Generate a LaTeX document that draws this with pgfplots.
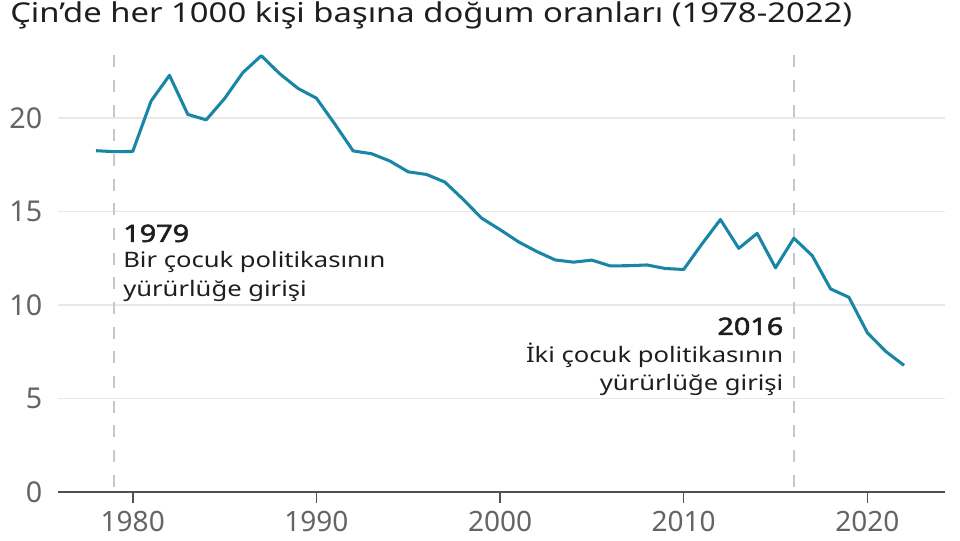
\documentclass[border=0pt]{standalone}
\usepackage{fontspec}
\setmainfont{Noto Sans}[AutoFakeBold=2.2]
\newfontfamily\wide{Noto Sans}[FakeStretch=1.2, AutoFakeBold=2.2]
\usepackage{pgfplots}
\pgfplotsset{compat=1.18}
\definecolor{linecol}{RGB}{24,134,164}
\definecolor{gridcol}{RGB}{232,232,232}
\definecolor{dashcol}{RGB}{200,200,200}
\definecolor{tickcol}{RGB}{100,100,100}
\definecolor{axiscol}{RGB}{80,80,80}
\definecolor{txtcol}{RGB}{30,30,30}
\begin{document}
\begin{tikzpicture}
\useasboundingbox (0,0) rectangle (720pt,405pt);
\node[anchor=base west, inner sep=0pt, font=\wide\fontsize{20.5}{24}\selectfont, text=txtcol]
  at (7.5pt,387.75pt) {Çin’de her 1000 kişi başına doğum oranları (1978-2022)};
\begin{axis}[
  at={(43.5pt,36pt)}, anchor=south west,
  scale only axis, width=665.25pt, height=327.5pt,
  xmin=1975.93, xmax=2024.23, ymin=0, ymax=23.35,
  clip=false,
  axis x line*=bottom, axis y line*=left,
  x axis line style={draw=axiscol, line width=1.5pt, -},
  y axis line style={draw=none},
  xtick={1980,1990,2000,2010,2020},
  ytick={0,5,10,15,20},
  xticklabel style={/pgf/number format/1000 sep={}, text=tickcol, font=\fontsize{21}{25}\selectfont, anchor=base, inner sep=0pt, yshift=-21pt},
  yticklabel style={text=tickcol, font=\fontsize{21.5}{25}\selectfont},
  /pgf/number format/assume math mode=true,
  tick align=outside,
  xtick style={draw=axiscol, line width=1.2pt},
  major tick length=8.25pt,
  ytick style={draw=none},
  ymajorgrids, grid style={draw=gridcol, line width=1.1pt},
]
\draw[dashcol, line width=1.5pt, dash pattern=on 9pt off 9.5pt] (axis cs:1979,23.35) -- (axis cs:1979,0);
\draw[dashcol, line width=1.5pt, dash pattern=on 9pt off 9.5pt] (axis cs:2016,23.35) -- (axis cs:2016,0);
\addplot[linecol, line width=2.3pt, line join=round, mark=none] table {
x y
1978 18.25
1979 18.20
1980 18.21
1981 20.91
1982 22.28
1983 20.19
1984 19.90
1985 21.04
1986 22.43
1987 23.33
1988 22.37
1989 21.58
1990 21.06
1991 19.68
1992 18.24
1993 18.09
1994 17.70
1995 17.12
1996 16.98
1997 16.57
1998 15.64
1999 14.64
2000 14.03
2001 13.38
2002 12.86
2003 12.41
2004 12.29
2005 12.40
2006 12.09
2007 12.10
2008 12.14
2009 11.95
2010 11.90
2011 13.27
2012 14.57
2013 13.03
2014 13.83
2015 11.99
2016 13.57
2017 12.64
2018 10.86
2019 10.41
2020 8.52
2021 7.52
2022 6.77
};
\node[anchor=base west, inner sep=0pt, text=txtcol, font=\wide\bfseries\fontsize{18}{22}\selectfont] at (axis cs:1979.47,13.37) {1979};
\node[anchor=base west, inner sep=0pt, text=txtcol, font=\wide\fontsize{16}{20}\selectfont] at (axis cs:1979.47,11.98) {Bir çocuk politikasının};
\node[anchor=base west, inner sep=0pt, text=txtcol, font=\wide\fontsize{16}{20}\selectfont] at (axis cs:1979.47,10.43) {yürürlüğe girişi};
\node[anchor=base east, inner sep=0pt, text=txtcol, font=\wide\bfseries\fontsize{18}{22}\selectfont] at (axis cs:2015.44,8.40) {2016};
\node[anchor=base east, inner sep=0pt, text=txtcol, font=\wide\fontsize{16}{20}\selectfont] at (axis cs:2015.44,6.95) {İki çocuk politikasının};
\node[anchor=base east, inner sep=0pt, text=txtcol, font=\wide\fontsize{16}{20}\selectfont] at (axis cs:2015.44,5.45) {yürürlüğe girişi};
\end{axis}
\end{tikzpicture}
\end{document}
